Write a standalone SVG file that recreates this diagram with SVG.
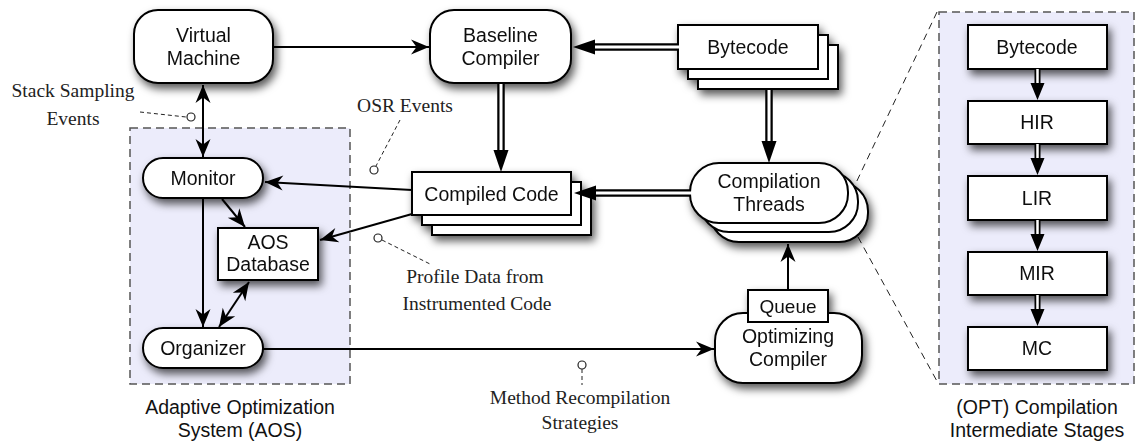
<svg xmlns="http://www.w3.org/2000/svg" width="1135" height="443" viewBox="0 0 1135 443">
  <defs>
    <filter id="shadow" x="-20%" y="-20%" width="150%" height="160%">
      <feDropShadow dx="3" dy="5" stdDeviation="4" flood-color="#000" flood-opacity="0.65"/>
    </filter>
    <marker id="arrow" viewBox="-20 -10 22 20" refX="0" refY="0" markerWidth="22" markerHeight="20" markerUnits="userSpaceOnUse" orient="auto-start-reverse">
      <path d="M0,0 L-18,-7.5 L-12.5,0 L-18,7.5 Z" fill="#000"/>
    </marker>
    <style>
      .node { fill: #fff; stroke: #000; stroke-width: 2; }
      .label { font-family: "Liberation Sans", Arial, sans-serif; font-size: 19.5px; fill: #111; text-anchor: middle; }
      .small { font-size: 19px; }
      .note { font-family: "Liberation Serif", "Times New Roman", serif; font-size: 19.5px; fill: #222; text-anchor: middle; }
      .group { fill: #ececfb; stroke: #555; stroke-width: 1.5; stroke-dasharray: 8 5; }
      .zoomline { fill: none; stroke: #222; stroke-width: 1; stroke-dasharray: 7 5; }
      .lead { fill: none; stroke: #222; stroke-width: 1; stroke-dasharray: 4 3; }
      .pin { fill: #fff; stroke: #222; stroke-width: 1.2; }
      .wire { fill: none; stroke: #000; stroke-width: 2; }
      .arrowed { marker-end: url(#arrow); }
      .both { marker-start: url(#arrow); marker-end: url(#arrow); }
      .shaft-out { fill: none; stroke: #000; stroke-width: 7.5; }
      .shaft-in { fill: none; stroke: #fff; stroke-width: 3; }
      .head { fill: #000; }
    </style>
  </defs>

  <!-- background panels -->
  <g id="aos-panel">
    <rect class="group" x="130" y="128" width="220" height="256"/>
    <text class="label" x="240" y="414">Adaptive Optimization</text>
    <text class="label" x="240" y="437">System (AOS)</text>
  </g>
  <g id="opt-panel">
    <rect class="group" x="939" y="12" width="195" height="372"/>
    <text class="label" x="1037" y="414">(OPT) Compilation</text>
    <text class="label" x="1037" y="437">Intermediate Stages</text>
    <path class="zoomline" d="M937,12 L855,185 M858,237 L938,383"/>
  </g>

  <!-- nodes -->
  <g id="virtual-machine" filter="url(#shadow)">
    <rect class="node" x="134" y="10" width="139" height="73" rx="24"/>
    <text class="label" x="203.5" y="42">Virtual</text>
    <text class="label" x="203.5" y="65">Machine</text>
  </g>
  <g id="baseline-compiler" filter="url(#shadow)">
    <rect class="node" x="430" y="10" width="141" height="73" rx="24"/>
    <text class="label" x="500.5" y="42">Baseline</text>
    <text class="label" x="500.5" y="65">Compiler</text>
  </g>
  <g id="bytecode" filter="url(#shadow)">
    <rect class="node" x="698" y="45" width="140" height="44"/>
    <rect class="node" x="688" y="35" width="140" height="44"/>
    <rect class="node" x="678" y="25" width="140" height="44"/>
    <text class="label" x="748" y="54">Bytecode</text>
  </g>
  <g id="compiled-code" filter="url(#shadow)">
    <rect class="node" x="432" y="192" width="159" height="43"/>
    <rect class="node" x="422" y="182" width="159" height="43"/>
    <rect class="node" x="412" y="172" width="159" height="43"/>
    <text class="label" x="491.5" y="201">Compiled Code</text>
  </g>
  <g id="compilation-threads" filter="url(#shadow)">
    <rect class="node" x="710" y="182" width="158" height="60" rx="29"/>
    <rect class="node" x="700" y="172" width="158" height="60" rx="29"/>
    <rect class="node" x="690" y="163" width="158" height="60" rx="29"/>
    <text class="label" x="769" y="188">Compilation</text>
    <text class="label" x="769" y="211">Threads</text>
  </g>
  <g id="optimizing-compiler" filter="url(#shadow)">
    <rect class="node" x="715" y="313" width="147" height="70" rx="28"/>
    <rect class="node" x="748" y="290" width="80" height="32"/>
    <text class="label small" x="788" y="312.5">Queue</text>
    <text class="label" x="788" y="343">Optimizing</text>
    <text class="label" x="788" y="366">Compiler</text>
  </g>
  <g id="monitor" filter="url(#shadow)">
    <rect class="node" x="143" y="158" width="120" height="40" rx="20"/>
    <text class="label" x="203" y="185">Monitor</text>
  </g>
  <g id="aos-database" filter="url(#shadow)">
    <rect class="node" x="218" y="228" width="100" height="52"/>
    <text class="label" x="268" y="249">AOS</text>
    <text class="label" x="268" y="271">Database</text>
  </g>
  <g id="organizer" filter="url(#shadow)">
    <rect class="node" x="143" y="328" width="120" height="40" rx="20"/>
    <text class="label" x="203" y="355">Organizer</text>
  </g>
  <g id="stage-bytecode" filter="url(#shadow)">
    <rect class="node" x="968" y="25" width="139" height="44"/>
    <text class="label" x="1037" y="54">Bytecode</text>
  </g>
  <g id="stage-hir" filter="url(#shadow)">
    <rect class="node" x="968" y="101" width="139" height="43"/>
    <text class="label" x="1037" y="129">HIR</text>
  </g>
  <g id="stage-lir" filter="url(#shadow)">
    <rect class="node" x="968" y="176" width="139" height="44"/>
    <text class="label" x="1037" y="205">LIR</text>
  </g>
  <g id="stage-mir" filter="url(#shadow)">
    <rect class="node" x="968" y="252" width="139" height="43"/>
    <text class="label" x="1037" y="280">MIR</text>
  </g>
  <g id="stage-mc" filter="url(#shadow)">
    <rect class="node" x="968" y="327" width="139" height="43"/>
    <text class="label" x="1037" y="355">MC</text>
  </g>

  <!-- connectors -->
  <g id="connectors">
    <!-- single-line arrows -->
    <path class="wire arrowed" d="M273,47 L429,47"/>
    <path class="wire both" d="M203,85 L203,157"/>
    <path class="wire arrowed" d="M412,190 L265,182"/>
    <path class="wire arrowed" d="M412,214 L320,240"/>
    <path class="wire arrowed" d="M222,199 L245,227"/>
    <path class="wire arrowed" d="M203,198 L203,327"/>
    <path class="wire both" d="M249,282 L219,327"/>
    <path class="wire arrowed" d="M263,349 L714,349"/>
    <path class="wire arrowed" d="M788,290 L788,244"/>

    <!-- double-line arrows -->
    <path class="shaft-out" d="M678,47 L594,47"/>
    <path class="shaft-in" d="M679,47 L593,47"/>
    <polygon class="head" points="573,47 595,39.5 595,54.5"/>

    <path class="shaft-out" d="M501,83 L501,151"/>
    <path class="shaft-in" d="M501,84 L501,152"/>
    <polygon class="head" points="501,172 493.5,150 508.5,150"/>

    <path class="shaft-out" d="M769,89 L769,142"/>
    <path class="shaft-in" d="M769,90 L769,143"/>
    <polygon class="head" points="769,163 761.5,141 776.5,141"/>

    <path class="shaft-out" d="M690,193 L595,193"/>
    <path class="shaft-in" d="M691,193 L594,193"/>
    <polygon class="head" points="574,193 596,185.5 596,200.5"/>

    <!-- stage pipeline -->
    <g>
      <path class="shaft-out" d="M1037.5,69 L1037.5,84" style="stroke-width:6"/>
      <path class="shaft-in" d="M1037.5,69 L1037.5,85" style="stroke-width:2.5"/>
      <polygon class="head" points="1037.5,100 1030.5,83 1044.5,83"/>
      <path class="shaft-out" d="M1037.5,144 L1037.5,159" style="stroke-width:6"/>
      <path class="shaft-in" d="M1037.5,144 L1037.5,160" style="stroke-width:2.5"/>
      <polygon class="head" points="1037.5,175 1030.5,158 1044.5,158"/>
      <path class="shaft-out" d="M1037.5,220 L1037.5,235" style="stroke-width:6"/>
      <path class="shaft-in" d="M1037.5,220 L1037.5,236" style="stroke-width:2.5"/>
      <polygon class="head" points="1037.5,251 1030.5,234 1044.5,234"/>
      <path class="shaft-out" d="M1037.5,295 L1037.5,310" style="stroke-width:6"/>
      <path class="shaft-in" d="M1037.5,295 L1037.5,311" style="stroke-width:2.5"/>
      <polygon class="head" points="1037.5,326 1030.5,309 1044.5,309"/>
    </g>
  </g>

  <!-- annotations -->
  <g id="annotations">
    <text class="note" x="73" y="97">Stack Sampling</text>
    <text class="note" x="73" y="125">Events</text>
    <path class="lead" d="M140,112 L186,117"/>
    <circle class="pin" cx="191" cy="117" r="4"/>

    <text class="note" x="405" y="112">OSR Events</text>
    <path class="lead" d="M400,120 L376,166"/>
    <circle class="pin" cx="374" cy="170" r="4"/>

    <text class="note" x="475" y="283">Profile Data from</text>
    <text class="note" x="477" y="310">Instrumented Code</text>
    <path class="lead" d="M382,240 L430,264"/>
    <circle class="pin" cx="378" cy="238" r="4"/>

    <text class="note" x="580" y="404">Method Recompilation</text>
    <text class="note" x="580" y="429">Strategies</text>
    <path class="lead" d="M582,369 L582,385"/>
    <circle class="pin" cx="582" cy="365" r="4"/>
  </g>
</svg>
